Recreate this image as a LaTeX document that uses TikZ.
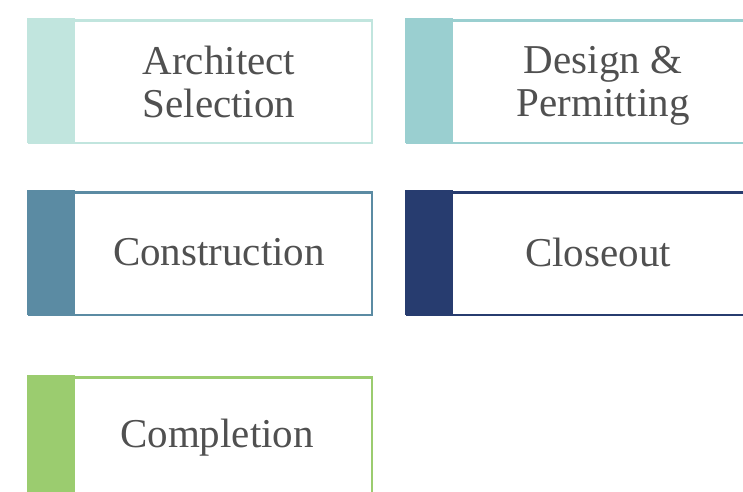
\documentclass[tikz,border=0pt]{standalone}
\usepackage{fontspec}
\setmainfont{Liberation Serif}
\definecolor{mint}{HTML}{C1E5DE}
\definecolor{teal}{HTML}{9ACFD0}
\definecolor{steel}{HTML}{5B8BA3}
\definecolor{navy}{HTML}{273C6F}
\definecolor{leaf}{HTML}{9BCC6F}
\definecolor{ink}{HTML}{505050}
\begin{document}
\begin{tikzpicture}[
                x=1pt, y=-1pt,
                caixa/.style={shape=rectangle, draw=#1, line width=2.5pt, inner sep=0pt,
                    minimum width=342.5pt, minimum height=122.5pt, anchor=north west},
                barra/.style={shape=rectangle, fill=#1, inner sep=0pt,
                    minimum width=48pt, minimum height=125pt, anchor=north west},
                rotulo/.style={text=ink, align=center, font=\fontsize{41}{43}\selectfont},
            ]
            \useasboundingbox (0, 0) rectangle (743, 491);
            \clip (0, 0) rectangle (743, 491);

            \node[caixa=mint] (c1) at (28.25, 19.25) {};
            \node[caixa=teal] (c2) at (406.25, 19.25) {};
            \node[caixa=steel] (c3) at (28.25, 191.25) {};
            \node[caixa=navy] (c4) at (406.25, 191.25) {};
            \node[caixa=leaf] (c5) at (28.25, 376.25) {};

            \node[barra=mint] (b1) at (27, 18) {};
            \node[barra=teal] (b2) at (405, 18) {};
            \node[barra=steel] (b3) at (27, 190) {};
            \node[barra=navy] (b4) at (405, 190) {};
            \node[barra=leaf] (b5) at (27, 375) {};

            \node[rotulo] (t1) at (219, 82) {Architect\\Selection};
            \node[rotulo] (t2) at (603, 86) {Design \&\\Permitting};
            \node[rotulo] (t3) at (219, 252) {Construction};
            \node[rotulo] (t4) at (598, 252) {Closeout};
            \node[rotulo] (t5) at (217, 438) {Completion};
        \end{tikzpicture}
\end{document}
